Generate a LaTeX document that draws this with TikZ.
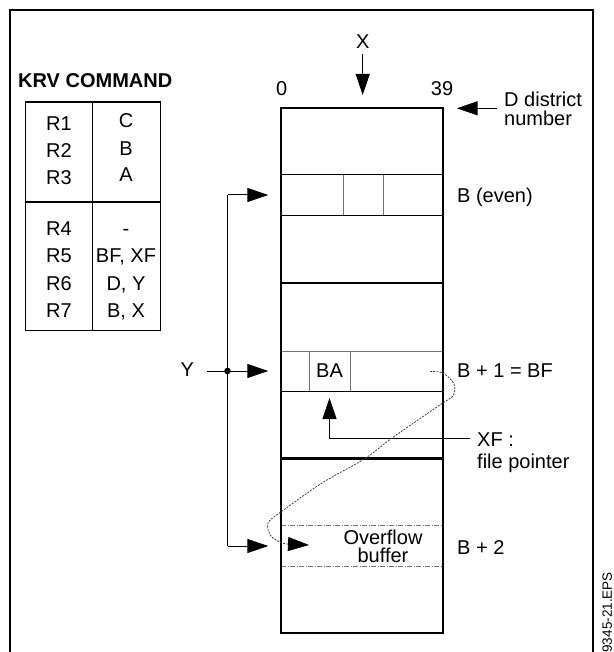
\documentclass[tikz,border=0pt]{standalone}
\usepackage{fontspec}
\setmainfont{Liberation Sans}
\usetikzlibrary{arrows.meta}
\newcommand\fsize{\fontsize{20}{22}\selectfont}
\tikzset{
    bigarrow/.style={-{Triangle[length=21pt,width=14pt,color=black]}},
    lbl/.style={inner sep=0pt,font=\fsize},
    lblb/.style={inner sep=0pt,font=\bfseries\fsize},
    hair/.style={line width=1pt},
    wall/.style={line width=2.2pt},
    cell/.style={line width=1pt,black!55},
    ovline/.style={line width=0.9pt,black!55,dash pattern=on 5pt off 1.5pt on 1pt off 1.5pt},
    curl/.style={line width=0.8pt,black!75,dash pattern=on 2pt off 1.2pt},
}
\begin{document}
\begin{tikzpicture}[x=1pt,y=-1pt]
    \useasboundingbox (0,0) rectangle (613,652);
    % frame
    \draw[line width=2.5pt] (10,670) -- (10,10) -- (593,10) -- (593,670);

    % command table
    \node[lblb,anchor=base west] (krv) at (18,88) {KRV COMMAND};
    \draw[hair] (25.7,101.7) rectangle (160,330);
    \draw[line width=1.8pt] (25.7,101.7) -- (160,101.7);
    \draw[line width=1.6pt] (25.7,202.3) -- (160,202.3);
    \draw[hair] (92.7,101.7) -- (92.7,330);
    \foreach \n/\y in {1/131,2/158,3/185,4/235.5,5/262.5,6/290,7/317.3}
        \node[lbl,anchor=base] (r\n) at (59,\y) {R\n};
    \node[lbl,anchor=base] (v1) at (126,128) {C};
    \node[lbl,anchor=base] (v2) at (126,155.5) {B};
    \node[lbl,anchor=base] (v3) at (126,182) {A};
    \node[lbl,anchor=base] (v4) at (126,235.5) {-};
    \node[lbl,anchor=base] (v5) at (126,262.5) {BF, XF};
    \node[lbl,anchor=base] (v6) at (126,290.5) {D, Y};
    \node[lbl,anchor=base] (v7) at (126,317.3) {B, X};

    % district block
    \coordinate (bNW) at (281,108);
    \coordinate (bSE) at (443,633);
    \draw[hair] (281,175) -- (443,175);
    \draw[hair] (281,215) -- (443,215);
    \draw[cell] (343,175) -- (343,215);
    \draw[cell] (383,175) -- (383,215);
    \draw[cell] (281,351) -- (443,351);
    \draw[hair] (281,391) -- (443,391);
    \draw[cell] (309,351) -- (309,391);
    \draw[cell] (350,351) -- (350,391);
    \draw[ovline] (281,525) -- (443,525);
    \draw[ovline] (281,566) -- (443,566);
    \draw[wall] (bNW) rectangle (bSE);
    \draw[wall] (281,283) -- (443,283);
    \draw[wall] (281,458.5) -- (443,458.5);

    \node[lbl] (zero) at (281.7,89) {0};
    \node[lbl] (last) at (442,88.3) {39};
    \node[lbl] (ba) at (329.5,371) {BA};
    \node[lbl,font=\fontsize{20}{18}\selectfont,align=center,anchor=north] (ovf) at (383,529.5) {Overflow\\buffer};

    % X pointer
    \node[lbl] (X) at (362.7,41.7) {X};
    \coordinate (xfrom) at (362.7,54);
    \coordinate (xto) at (362.7,95);
    \draw[hair,bigarrow] (xfrom) -- (xto);

    % D district number
    \node[lbl,anchor=base west] (dd) at (504,107) {D district};
    \node[lbl,anchor=base west] (dn) at (504,126) {number};
    \coordinate (dfrom) at (497,108.3);
    \coordinate (dto) at (456.7,108.3);
    \draw[hair,bigarrow] (dfrom) -- (dto);

    % row labels
    \node[lbl,anchor=base west] (beven) at (457,203) {B (even)};
    \node[lbl,anchor=base west] (bodd) at (457,377.5) {B + 1 = BF};
    \node[lbl,anchor=base west] (btwo) at (457,554) {B + 2};

    % XF file pointer
    \node[lbl,anchor=base west] (xf) at (477,446) {XF :};
    \node[lbl,anchor=base west] (fp) at (477,468) {file pointer};
    \coordinate (xfin) at (470,438.3);
    \coordinate (xfk) at (329.5,438.3);
    \coordinate (xftip) at (329.5,398);
    \draw[hair,bigarrow] (xfin) -- (xfk) -- (xftip);

    % Y bus
    \node[lbl] (Y) at (187.3,370) {Y};
    \coordinate (yin) at (206.7,371);
    \coordinate (busT) at (227.5,195);
    \coordinate (busY) at (227.5,371);
    \coordinate (busB) at (227.5,546);
    \coordinate (tipT) at (268.3,195);
    \coordinate (tipY) at (268.3,371);
    \coordinate (tipB) at (268.3,546);
    \draw[hair] (busT) -- (busB);
    \draw[hair] (yin) -- (busY);
    \fill (busY) circle[radius=3.3pt];
    \draw[hair,bigarrow] (busT) -- (tipT);
    \draw[hair,bigarrow] (busY) -- (tipY);
    \draw[hair,bigarrow] (busB) -- (tipB);

    % overflow link
    \coordinate (ovtip) at (309,545);
    \draw[curl,bigarrow] plot[smooth,tension=0.55] coordinates {(430,371.5) (443,373)
        (454,384) (453,396) (442,403.5) (392,438) (365,458.5) (322,483) (283,510.5)
        (268,523) (271,536) (281,542.5) (287,544)} -- (ovtip);

    \node[inner sep=0pt,font=\fontsize{13.5}{14}\selectfont,rotate=90,anchor=east] (eps) at (607.3,572) {9345-21.EPS};
\end{tikzpicture}
\end{document}
